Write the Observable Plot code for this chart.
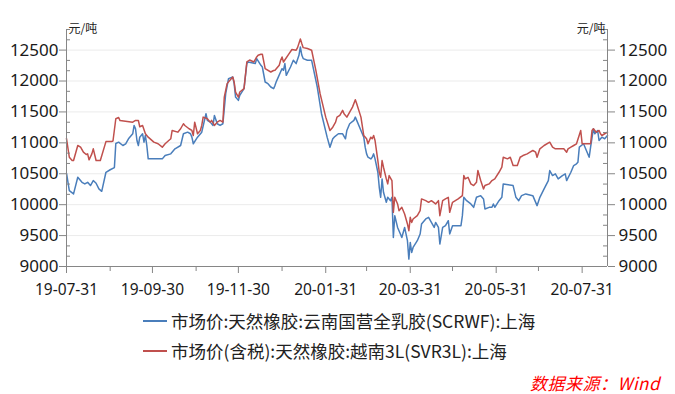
<!DOCTYPE html>
<html><head><meta charset="utf-8">
<script src="https://cdn.jsdelivr.net/npm/d3@7"></script>
<script src="https://cdn.jsdelivr.net/npm/@observablehq/plot@0.6"></script>
<style>
body{margin:0;background:#fff;}
#wrap{position:relative;width:675px;height:394px;overflow:hidden;background:#fff;font-family:"Noto Sans CJK SC","Noto Sans",sans-serif;}
#chart{position:absolute;left:0;top:0;}
.leg{position:absolute;left:143px;height:22px;display:flex;align-items:center;font-size:17.5px;color:#222;white-space:nowrap;}
.leg .sw{width:24px;height:0;border-top:2px solid;margin-right:4px;}
#src{position:absolute;left:530px;top:370px;padding:0 6px 2px 0;line-height:26px;font-size:17px;font-style:italic;color:#f00;letter-spacing:0.5px;white-space:nowrap;}
</style></head>
<body><div id="wrap"><div id="chart"></div>
<div class="leg" id="leg1" style="top:309.5px"><span class="sw" style="border-color:#4a7ebb"></span><span id="l1"></span></div>
<div class="leg" id="leg2" style="top:339.5px"><span class="sw" style="border-color:#c0504d"></span><span id="l2"></span></div>
<div id="src"></div>
</div>
<script>
const seriesNames = ["市场价:天然橡胶:云南国营全乳胶(SCRWF):上海", "市场价(含税):天然橡胶:越南3L(SVR3L):上海"];
const sourceText = "数据来源：Wind";
const unitText = "元/吨";
const xStart = "2019-07-31", xEnd = "2020-08-18";
const xTickDates = ["2019-07-31","2019-09-30","2019-11-30","2020-01-31","2020-03-31","2020-05-31","2020-07-31"];
const xMinorDates = ["2019-08-31","2019-10-31","2019-12-31","2020-02-29","2020-04-30","2020-06-30"];
const yTicks = [9000,9500,10000,10500,11000,11500,12000,12500];
const yTop = 12833.33;

const blueDates = ["2019-07-31","2019-08-02","2019-08-05","2019-08-08","2019-08-11","2019-08-13","2019-08-15","2019-08-17","2019-08-19","2019-08-21","2019-08-23","2019-08-25","2019-08-28","2019-08-31","2019-09-03","2019-09-04","2019-09-06","2019-09-09","2019-09-11","2019-09-13","2019-09-16","2019-09-17","2019-09-18","2019-09-19","2019-09-20","2019-09-21","2019-09-23","2019-09-24","2019-09-25","2019-09-26","2019-09-27","2019-10-07","2019-10-09","2019-10-13","2019-10-16","2019-10-20","2019-10-22","2019-10-25","2019-10-27","2019-10-28","2019-10-29","2019-11-01","2019-11-04","2019-11-07","2019-11-08","2019-11-10","2019-11-12","2019-11-13","2019-11-15","2019-11-17","2019-11-19","2019-11-21","2019-11-23","2019-11-26","2019-11-27","2019-11-28","2019-11-30","2019-12-01","2019-12-04","2019-12-06","2019-12-07","2019-12-12","2019-12-13","2019-12-16","2019-12-17","2019-12-19","2019-12-21","2019-12-23","2019-12-25","2019-12-26","2019-12-27","2019-12-30","2019-12-31","2020-01-01","2020-01-02","2020-01-03","2020-01-06","2020-01-08","2020-01-10","2020-01-12","2020-01-13","2020-01-14","2020-01-15","2020-01-18","2020-01-21","2020-01-25","2020-01-28","2020-02-01","2020-02-03","2020-02-05","2020-02-06","2020-02-09","2020-02-12","2020-02-14","2020-02-15","2020-02-17","2020-02-20","2020-02-21","2020-02-22","2020-02-25","2020-02-27","2020-02-28","2020-02-29","2020-03-01","2020-03-03","2020-03-04","2020-03-05","2020-03-06","2020-03-08","2020-03-09","2020-03-10","2020-03-11","2020-03-12","2020-03-14","2020-03-15","2020-03-17","2020-03-18","2020-03-19","2020-03-20","2020-03-22","2020-03-24","2020-03-25","2020-03-26","2020-03-27","2020-03-29","2020-03-30","2020-03-31","2020-04-01","2020-04-02","2020-04-05","2020-04-07","2020-04-08","2020-04-11","2020-04-13","2020-04-15","2020-04-17","2020-04-18","2020-04-20","2020-04-21","2020-04-23","2020-04-25","2020-04-27","2020-04-28","2020-04-30","2020-05-06","2020-05-07","2020-05-08","2020-05-10","2020-05-13","2020-05-15","2020-05-17","2020-05-20","2020-05-22","2020-05-23","2020-05-26","2020-05-28","2020-05-29","2020-05-30","2020-06-02","2020-06-04","2020-06-05","2020-06-12","2020-06-14","2020-06-16","2020-06-18","2020-06-21","2020-06-26","2020-06-29","2020-07-01","2020-07-04","2020-07-07","2020-07-08","2020-07-10","2020-07-12","2020-07-14","2020-07-17","2020-07-19","2020-07-20","2020-07-23","2020-07-25","2020-07-27","2020-07-28","2020-07-29","2020-08-01","2020-08-03","2020-08-05","2020-08-06","2020-08-08","2020-08-09","2020-08-11","2020-08-12","2020-08-14","2020-08-16","2020-08-18"];
const blueValues = [10510,10227,10174,10443,10362,10336,10362,10309,10390,10346,10255,10216,10524,10565,10600,10990,11011,10957,10985,11066,11147,11281,11228,11038,10957,11092,11147,11011,11119,10957,10741,10741,10795,10822,10903,10957,11147,11173,11147,11092,10985,11092,11173,11471,11363,11335,11281,11444,11309,11281,11309,11795,12039,12065,11957,11740,11687,11768,11876,12282,12308,12282,12363,12254,12227,11984,11957,11903,11876,11930,11995,12150,12200,12173,12282,12092,12227,12335,12282,12416,12552,12420,12363,12335,12335,11903,11471,11092,10930,11066,11092,11147,11147,11066,11200,11309,11363,11416,11363,11200,11092,10930,10822,10768,10740,10768,10822,10741,10524,10281,10119,10417,10200,10038,10119,10065,10119,9470,9822,9632,9525,9470,9551,9632,9417,9120,9389,9227,9308,9417,9525,9687,9769,9795,9713,9632,9713,9632,9363,9632,9660,9741,9525,9660,9660,9822,10119,10065,10012,9957,10119,10146,10093,9931,9957,9957,10012,9957,10065,10119,10336,10309,10119,10065,10146,10174,10146,9984,10119,10255,10390,10552,10471,10498,10417,10471,10498,10390,10524,10633,10660,10686,10930,10985,10876,10768,10930,11228,11147,11200,11038,11092,11066,11119];

const redDates = ["2019-07-31","2019-08-02","2019-08-04","2019-08-05","2019-08-08","2019-08-10","2019-08-12","2019-08-14","2019-08-15","2019-08-16","2019-08-18","2019-08-19","2019-08-21","2019-08-24","2019-08-28","2019-09-01","2019-09-02","2019-09-04","2019-09-06","2019-09-07","2019-09-16","2019-09-18","2019-09-20","2019-09-21","2019-09-23","2019-09-25","2019-09-27","2019-10-01","2019-10-04","2019-10-07","2019-10-09","2019-10-13","2019-10-14","2019-10-18","2019-10-20","2019-10-22","2019-10-23","2019-10-26","2019-10-28","2019-10-29","2019-10-30","2019-11-01","2019-11-03","2019-11-04","2019-11-05","2019-11-08","2019-11-10","2019-11-11","2019-11-13","2019-11-15","2019-11-17","2019-11-19","2019-11-20","2019-11-22","2019-11-24","2019-11-26","2019-11-27","2019-11-28","2019-11-30","2019-12-01","2019-12-04","2019-12-06","2019-12-08","2019-12-11","2019-12-13","2019-12-14","2019-12-16","2019-12-17","2019-12-19","2019-12-23","2019-12-25","2019-12-26","2019-12-29","2019-12-30","2019-12-31","2020-01-01","2020-01-05","2020-01-07","2020-01-10","2020-01-11","2020-01-13","2020-01-14","2020-01-15","2020-01-18","2020-01-21","2020-01-24","2020-01-27","2020-01-31","2020-02-03","2020-02-05","2020-02-07","2020-02-08","2020-02-10","2020-02-12","2020-02-13","2020-02-15","2020-02-17","2020-02-19","2020-02-21","2020-02-22","2020-02-25","2020-02-27","2020-02-29","2020-03-01","2020-03-03","2020-03-04","2020-03-05","2020-03-06","2020-03-08","2020-03-09","2020-03-10","2020-03-11","2020-03-12","2020-03-14","2020-03-15","2020-03-16","2020-03-18","2020-03-19","2020-03-20","2020-03-22","2020-03-23","2020-03-25","2020-03-27","2020-03-29","2020-03-30","2020-03-31","2020-04-01","2020-04-02","2020-04-05","2020-04-07","2020-04-08","2020-04-11","2020-04-13","2020-04-15","2020-04-18","2020-04-20","2020-04-21","2020-04-23","2020-04-25","2020-04-27","2020-04-28","2020-04-30","2020-05-02","2020-05-04","2020-05-07","2020-05-08","2020-05-09","2020-05-11","2020-05-13","2020-05-15","2020-05-17","2020-05-18","2020-05-20","2020-05-22","2020-05-23","2020-05-26","2020-05-28","2020-05-30","2020-06-02","2020-06-04","2020-06-05","2020-06-08","2020-06-10","2020-06-12","2020-06-15","2020-06-17","2020-06-19","2020-06-22","2020-06-24","2020-06-26","2020-06-28","2020-06-29","2020-07-01","2020-07-04","2020-07-08","2020-07-10","2020-07-12","2020-07-18","2020-07-20","2020-07-21","2020-07-23","2020-07-25","2020-07-27","2020-07-30","2020-07-31","2020-08-06","2020-08-07","2020-08-08","2020-08-10","2020-08-12","2020-08-13","2020-08-14","2020-08-16","2020-08-18"];
const redValues = [11070,10767,10714,10714,10957,10930,10849,10811,10822,10725,10822,10903,10714,10714,11020,11020,11030,11390,11410,11360,11335,11363,11363,11260,11281,11147,11092,11011,10985,10930,10985,11066,11200,11173,11228,11309,11281,11228,11200,11119,11335,11147,11200,11281,11416,11390,11335,11363,11281,11335,11363,11335,11740,11958,12011,12065,11984,11822,11740,11822,11876,12308,12340,12308,12389,12416,12433,12433,12200,12146,12170,12173,12254,12335,12389,12308,12444,12510,12498,12540,12680,12606,12540,12525,12498,12173,11795,11416,11200,11254,11335,11416,11444,11525,11471,11416,11497,11578,11698,11633,11416,11119,11066,10985,11092,11066,11119,11038,10714,10524,10443,10714,10606,10417,10336,10471,10390,9876,10119,10012,9903,9957,9849,9688,9579,9795,9713,9768,9822,9903,10093,10065,10038,10065,10012,10065,9822,10065,10093,10119,9876,10038,10065,10093,10146,10471,10417,10443,10336,10309,10362,10552,10390,10255,10309,10336,10390,10417,10524,10606,10767,10741,10767,10633,10633,10767,10795,10822,10849,10876,10849,10767,10903,10957,11011,10930,10903,10903,10849,10903,10930,10957,10985,11200,10985,10985,11200,11228,11173,11200,11147,11119,11147,11173];

const parse = d3.utcParse("%Y-%m-%d");
const blue = blueDates.map((d, i) => ({date: parse(d), value: blueValues[i]}));
const red = redDates.map((d, i) => ({date: parse(d), value: redValues[i]}));
const x0 = parse(xStart), x1 = parse(xEnd);
const yGrid = yTicks.slice(1);
const yMinor = d3.range(1, 24).filter(k => k % 3 !== 0).map(k => 9000 + k * 500 / 3);
const W = 675, ML = 66, MR = 68;
const frameW = W - ML - MR;
const axisGray = "#868686";

const chart = Plot.plot({
  width: W, height: 300,
  marginLeft: ML, marginRight: MR, marginTop: 29, marginBottom: 34,
  style: {fontFamily: "'Noto Sans', sans-serif", background: "transparent", overflow: "visible"},
  x: {type: "utc", domain: [x0, x1], label: null},
  y: {domain: [9000, yTop], label: null},
  marks: [
    Plot.ruleY(yGrid, {stroke: "#ebebeb", strokeWidth: 1}),
    Plot.line(blue, {x: "date", y: "value", stroke: "#4a7ebb", strokeWidth: 1.5}),
    Plot.line(red, {x: "date", y: "value", stroke: "#c0504d", strokeWidth: 1.5}),
    Plot.ruleX([x0, x1], {stroke: axisGray}),
    Plot.ruleY([9000], {stroke: axisGray}),
    Plot.ruleY(yMinor, {stroke: axisGray, insetRight: frameW - 4}),
    Plot.ruleY(yMinor, {stroke: axisGray, insetLeft: frameW - 4}),
    Plot.axisY({anchor: "left", label: null, ticks: yTicks, tickFormat: d => String(d), tickSize: 7, tickPadding: 1, fontSize: 17, stroke: axisGray, fill: "#1a1a1a"}),
    Plot.axisY({anchor: "right", label: null, ticks: yTicks, tickFormat: d => String(d), tickSize: 7, tickPadding: 4, fontSize: 17, stroke: axisGray, fill: "#1a1a1a"}),
    Plot.axisX({label: null, ticks: xTickDates.map(parse), tickFormat: d3.utcFormat("%y-%m-%d"), tickSize: 7, tickPadding: 10, fontSize: 15.5, stroke: axisGray, fill: "#1a1a1a"}),
    Plot.axisX({label: null, ticks: xMinorDates.map(parse), tickFormat: () => "", tickSize: 5, stroke: axisGray}),
    Plot.text([unitText], {frameAnchor: "top-left", dx: 2, textAnchor: "start", lineAnchor: "middle", fontSize: 12, fontFamily: "'Noto Sans CJK SC'", fill: "#222"}),
    Plot.text([unitText], {frameAnchor: "top-right", dx: -2, textAnchor: "end", lineAnchor: "middle", fontSize: 12, fontFamily: "'Noto Sans CJK SC'", fill: "#222"})
  ]
});
document.getElementById("chart").appendChild(chart);
document.getElementById("l1").textContent = seriesNames[0];
document.getElementById("l2").textContent = seriesNames[1];
document.getElementById("src").textContent = sourceText;
</script>
</body></html>
